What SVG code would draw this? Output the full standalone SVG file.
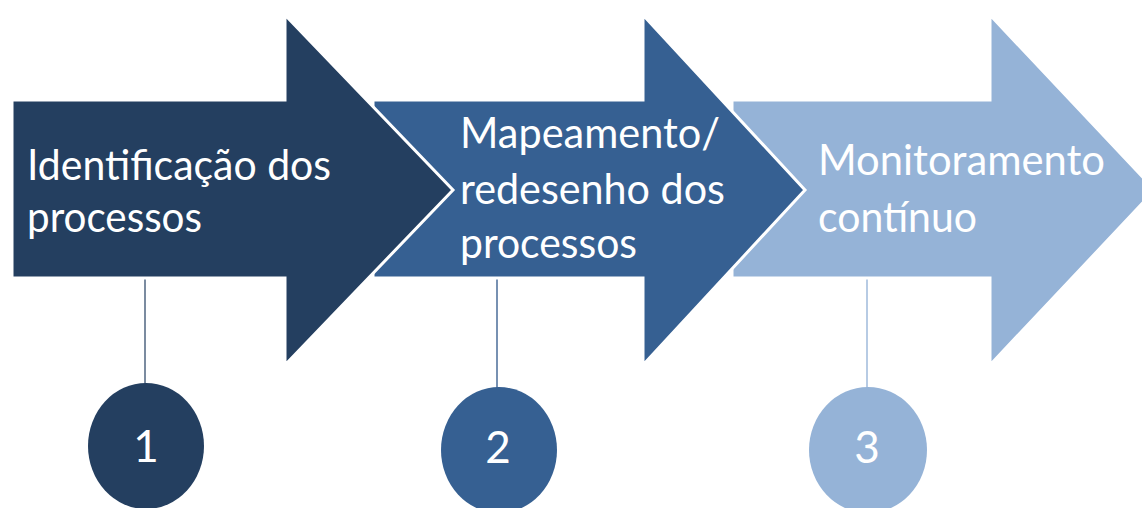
<svg xmlns="http://www.w3.org/2000/svg" width="1142" height="508" viewBox="0 0 1142 508">
<style>
.arrow{stroke:#ffffff;stroke-width:3;stroke-linejoin:miter}
.lbl{font-family:Lato,"Open Sans","Liberation Sans",sans-serif;font-size:43px;fill:#ffffff}
.num{font-family:Lato,"Open Sans","Liberation Sans",sans-serif;font-size:44px;fill:#ffffff;text-anchor:middle}
.c1{fill:#243F60}.c2{fill:#366092}.c3{fill:#95B3D7}
</style>
<rect width="1142" height="508" fill="#ffffff"/>
<g id="connectors" stroke-width="1.5">
<line x1="145" y1="278" x2="145" y2="384" stroke="#4f6580"/>
<line x1="497" y1="278" x2="497" y2="388" stroke="#4a6d98"/>
<line x1="867" y1="278" x2="867" y2="388" stroke="#9fbadb"/>
</g>
<g id="step3">
<polygon class="arrow c3" points="732,100 990,100 990,15 1155,190 990,365 990,278 732,278"/>
<text class="lbl" x="818" y="175" textLength="287" lengthAdjust="spacingAndGlyphs">Monitoramento</text>
<text class="lbl" x="818" y="232" textLength="159" lengthAdjust="spacingAndGlyphs">contínuo</text>
</g>
<g id="step2">
<polygon class="arrow c2" points="373,100 643,100 643,15 805,190 643,365 643,278 373,278"/>
<text class="lbl" x="460" y="148" textLength="260" lengthAdjust="spacingAndGlyphs">Mapeamento/</text>
<text class="lbl" x="460" y="204" textLength="265" lengthAdjust="spacingAndGlyphs">redesenho dos</text>
<text class="lbl" x="460" y="258" textLength="177" lengthAdjust="spacingAndGlyphs">processos</text>
</g>
<g id="step1">
<polygon class="arrow c1" points="12,100 285,100 285,15 453,190 285,365 285,278 12,278"/>
<text class="lbl" x="27" y="180" textLength="304" lengthAdjust="spacingAndGlyphs">Identificação dos</text>
<text class="lbl" x="27" y="232" textLength="175" lengthAdjust="spacingAndGlyphs">processos</text>
</g>
<g id="badge1">
<ellipse class="c1" cx="146" cy="446" rx="58" ry="63"/>
<text class="num" x="146" y="462">1</text>
</g>
<g id="badge2">
<ellipse class="c2" cx="499" cy="450" rx="58" ry="63"/>
<text class="num" x="498" y="463">2</text>
</g>
<g id="badge3">
<ellipse class="c3" cx="868" cy="450" rx="59" ry="63"/>
<text class="num" x="867" y="463">3</text>
</g>
</svg>
